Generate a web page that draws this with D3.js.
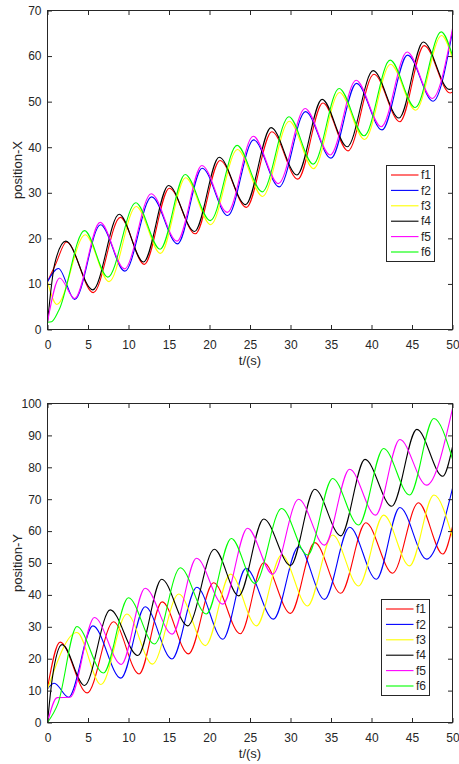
<!DOCTYPE html>
<html>
<head>
<meta charset="utf-8">
<script src="https://cdn.jsdelivr.net/npm/d3@7"></script>
<style>
  body { margin: 0; background: #fff; }
  svg { display: block; font-family: "Liberation Sans", Arial, sans-serif; }
</style>
</head>
<body>
<div id="chart"></div>
<script>
var width = 459,
    height = 764;

var names = ["f1", "f2", "f3", "f4", "f5", "f6"],
    colors = ["#ff0000", "#0000ff", "#ffff00", "#000000", "#ff00ff", "#00ff00"];

var tTicks = [0, 5, 10, 15, 20, 25, 30, 35, 40, 45, 50],
    xTicks = [0, 10, 20, 30, 40, 50, 60, 70],
    yTicks = [0, 10, 20, 30, 40, 50, 60, 70, 80, 90, 100];

// position-X, [t, value]
var f1X = [[0,10.5],[1.0,14.3],[2.35,19.2],[5.65,8.1],[9.0,24.6],[11.95,14.3],[15.05,31.0],[18.25,21.0],[21.3,37.1],[24.55,26.8],[27.7,43.4],[30.9,33.0],[34.0,49.7],[37.1,39.2],[40.3,56.0],[43.5,45.6],[46.5,62.3],[49.7,51.9],[50,52.1]];
var f2X = [[0,10.5],[1.36,13.4],[3.35,6.6],[6.55,23.0],[9.55,12.8],[12.85,29.1],[16.05,18.8],[19.1,35.4],[22.25,25.0],[25.45,41.6],[28.6,31.3],[31.85,47.8],[35.0,37.6],[38.15,54.0],[41.3,43.8],[44.45,60.2],[47.6,50.1],[50,65.4]];
var f3X = [[0,10.5],[1.16,5.5],[4.65,20.8],[7.6,10.5],[10.95,27.0],[13.95,16.7],[17.05,33.3],[20.15,23.0],[23.45,39.5],[26.55,29.2],[29.85,45.7],[32.85,35.3],[36.05,52.0],[39.15,41.7],[42.35,58.2],[45.45,48.1],[48.65,64.5],[50,59.4]];
var f4X = [[0,1.5],[0.9,14.5],[2.25,19.4],[5.6,8.7],[8.85,25.3],[11.85,14.8],[14.95,31.6],[18.15,21.5],[21.2,37.8],[24.45,27.4],[27.6,44.3],[30.8,33.9],[33.9,50.5],[37.0,40.1],[40.2,56.8],[43.4,46.4],[46.4,63.1],[49.6,52.7],[50,52.9]];
var f5X = [[0,1.6],[1.5,11.3],[3.35,6.8],[6.5,23.5],[9.5,13.3],[12.8,29.8],[16.0,19.4],[19.06,36.0],[22.2,25.7],[25.4,42.4],[28.5,32.0],[31.8,48.5],[34.9,38.3],[38.1,54.7],[41.2,44.5],[44.4,60.9],[47.5,50.7],[50,66.0]];
var f6X = [[0,1.6],[0.5,1.7],[1.4,4.2],[4.57,21.7],[7.45,11.5],[10.9,27.8],[13.9,17.6],[17.0,34.0],[20.1,23.9],[23.4,40.4],[26.5,30.2],[29.8,46.7],[32.8,36.3],[36.0,52.9],[39.1,42.5],[42.3,59.1],[45.4,48.7],[48.6,65.3],[50,60.1]];

// position-Y
var f1Y = [[0,10.8],[1.55,25.2],[4.9,9.3],[8.15,31.6],[11.3,15.2],[14.15,37.8],[17.4,21.5],[20.5,43.8],[23.8,27.8],[26.7,50.1],[30.0,34.2],[33.0,56.4],[36.2,40.5],[39.3,62.6],[42.6,46.8],[45.8,68.9],[48.8,52.8],[50,61.4]];
var f2Y = [[0,10.5],[0.83,12.3],[2.6,7.9],[5.6,30.3],[9.06,13.9],[12.06,36.3],[15.36,19.9],[18.44,42.4],[21.65,26.1],[24.5,48.3],[27.9,32.4],[31.0,55.1],[34.2,38.6],[37.3,61.2],[40.6,44.9],[43.5,67.4],[46.8,51.2],[50,73.4]];
var f3Y = [[0,10.4],[3.63,28.2],[6.6,11.9],[9.8,34.0],[12.96,18.3],[16.2,40.3],[19.5,24.1],[22.6,46.5],[25.8,30.3],[28.9,52.5],[32.1,36.5],[35.2,58.8],[38.4,42.8],[41.5,65.0],[44.7,49.1],[47.7,71.3],[50,58.0]];
var f4Y = [[0,0],[0.6,14],[1.8,24.4],[4.57,11.6],[7.74,35.3],[11.16,21.0],[14.1,44.9],[17.3,30.3],[20.6,54.3],[23.6,39.7],[26.7,63.8],[30.0,49.2],[33.0,73.1],[36.2,58.5],[39.2,82.5],[42.5,67.8],[45.6,91.9],[48.8,77.2],[50,86.4]];
var f5Y = [[0,0],[1.2,7.8],[2.8,7.9],[5.8,32.9],[9.1,18.2],[12.06,42.1],[15.4,27.7],[18.4,51.5],[21.65,37.1],[24.7,60.9],[27.8,46.5],[31.0,70.0],[34.2,55.6],[37.3,79.4],[40.5,65.0],[43.5,88.7],[46.8,74.4],[50,98.4]];
var f6Y = [[0,0],[1.3,6],[3.63,30.1],[6.9,15.5],[10.0,39.1],[13.2,24.6],[16.4,48.5],[19.6,34.0],[22.7,57.7],[25.6,43.6],[28.9,67.1],[32.1,52.5],[35.2,76.5],[38.4,61.9],[41.5,85.9],[44.7,71.3],[47.7,95.3],[50,82.6]];

var svg = d3.select("#chart").append("svg")
    .attr("width", width)
    .attr("height", height);

function drawPanel(top, bottom, yMax, ticks, series, label, legend) {
  var t = d3.scaleLinear().domain([0, 50]).range([47.5, 452.5]);
  var y = d3.scaleLinear().domain([0, yMax]).range([bottom, top]);
  var g = svg.append("g");

  var line = d3.line()
    .x(function(d) { return t(d[0]); })
    .y(function(d) { return y(d[1]); })
    .curve(d3.curveMonotoneX);

  g.selectAll("path.series")
    .data(series)
    .enter()
    .append("path")
    .attr("class", "series")
    .attr("d", line)
    .attr("fill", "none")
    .attr("stroke", function(d, i) { return colors[i]; })
    .attr("stroke-width", 1.1);

  // matlab style box, ticks pointing in on all four sides
  g.append("g")
    .attr("transform", "translate(0," + bottom + ")")
    .call(d3.axisBottom(t).tickValues(tTicks).tickSize(-4.5).tickPadding(10.5));
  g.append("g")
    .attr("transform", "translate(0," + top + ")")
    .call(d3.axisTop(t).tickValues(tTicks).tickSize(-4.5).tickFormat(""));
  g.append("g")
    .attr("transform", "translate(47.5,0)")
    .call(d3.axisLeft(y).tickValues(ticks).tickSize(-4.5).tickPadding(6));
  g.append("g")
    .attr("transform", "translate(452.5,0)")
    .call(d3.axisRight(y).tickValues(ticks).tickSize(-4.5).tickFormat(""));

  g.selectAll(".domain").remove();
  g.selectAll(".tick line").attr("stroke", "#262626");
  g.selectAll(".tick text").attr("fill", "#262626").style("font-size", "12px");

  g.append("rect")
    .attr("x", 47.5)
    .attr("y", top)
    .attr("width", 405)
    .attr("height", bottom - top)
    .attr("fill", "none")
    .attr("stroke", "#262626")
    .attr("stroke-width", 1);

  g.append("text")
    .attr("x", 250)
    .attr("y", bottom + 35.5)
    .attr("text-anchor", "middle")
    .attr("fill", "#262626")
    .style("font-size", "13px")
    .text("t/(s)");

  g.append("text")
    .attr("transform", "translate(22," + (top + bottom) / 2 + ") rotate(-90)")
    .attr("text-anchor", "middle")
    .attr("fill", "#262626")
    .style("font-size", "13px")
    .text(label);

  var lg = g.append("g").attr("transform", "translate(" + legend[0] + "," + legend[1] + ")");
  lg.append("rect")
    .attr("width", 48)
    .attr("height", 96)
    .attr("fill", "#fff")
    .attr("stroke", "#262626");
  var item = lg.selectAll("g.item")
    .data(names)
    .enter()
    .append("g")
    .attr("class", "item")
    .attr("transform", function(d, i) { return "translate(0," + (9.5 + i * 15.4) + ")"; });
  item.append("line")
    .attr("x1", 4.5)
    .attr("x2", 32)
    .attr("stroke", function(d, i) { return colors[i]; })
    .attr("stroke-width", 1.1);
  item.append("text")
    .attr("x", 34.5)
    .attr("y", 4.2)
    .attr("fill", "#262626")
    .style("font-size", "12px")
    .text(function(d) { return d; });
}

drawPanel(10.5, 329.5, 70, xTicks, [f1X, f2X, f3X, f4X, f5X, f6X], "position-X", [386.5, 165.5]);
drawPanel(403.5, 722.5, 100, yTicks, [f1Y, f2Y, f3Y, f4Y, f5Y, f6Y], "position-Y", [381.5, 599.5]);
</script>
</body>
</html>
